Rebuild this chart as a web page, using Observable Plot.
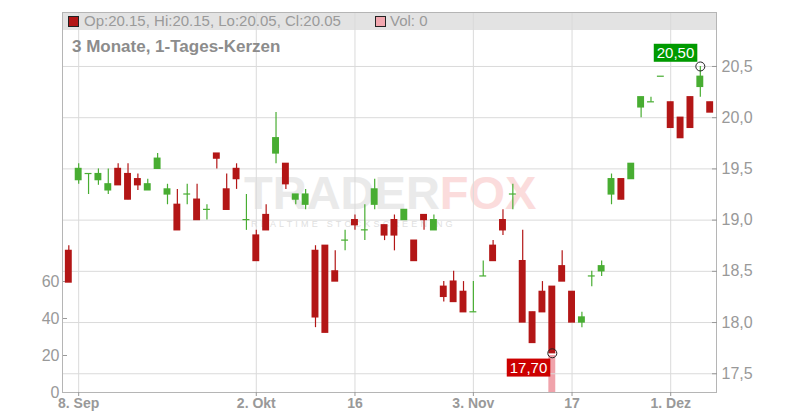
<!DOCTYPE html>
<html><head><meta charset="utf-8">
<script src="https://cdn.jsdelivr.net/npm/d3@7"></script>
<script src="https://cdn.jsdelivr.net/npm/@observablehq/plot@0.6"></script>
<style>
body{margin:0;background:#fff;font-family:"Liberation Sans",Arial,sans-serif;}
#wrap{position:relative;width:800px;height:420px;overflow:hidden;background:#fff}
.abs{position:absolute}
</style></head><body><div id="wrap"></div>
<script>
// ---- data ----
const dates = [
 "2025-09-05","2025-09-08","2025-09-09","2025-09-10","2025-09-11","2025-09-12",
 "2025-09-15","2025-09-16","2025-09-17","2025-09-18","2025-09-19",
 "2025-09-22","2025-09-23","2025-09-24","2025-09-25","2025-09-26",
 "2025-09-29","2025-09-30","2025-10-01","2025-10-02","2025-10-03",
 "2025-10-06","2025-10-07","2025-10-08","2025-10-09","2025-10-10",
 "2025-10-13","2025-10-14","2025-10-15","2025-10-16","2025-10-17",
 "2025-10-20","2025-10-21","2025-10-22","2025-10-23","2025-10-24",
 "2025-10-27","2025-10-28","2025-10-29","2025-10-30","2025-10-31",
 "2025-11-03","2025-11-04","2025-11-05","2025-11-06","2025-11-07",
 "2025-11-10","2025-11-11","2025-11-12","2025-11-13","2025-11-14",
 "2025-11-17","2025-11-18","2025-11-19","2025-11-20","2025-11-21",
 "2025-11-24","2025-11-25","2025-11-26","2025-11-27","2025-11-28",
 "2025-12-01","2025-12-02","2025-12-03","2025-12-04","2025-12-05"];
const open  = [18.70,19.39,19.45,19.39,19.29,19.50, 19.45,19.40,19.29,19.50,19.25, 19.15,19.25,19.20,19.10,19.65, 19.30,19.50,19.00,18.85,19.05,
               19.65,19.55,19.20,19.15,18.70, 18.75,18.50,18.80,19.00,18.90, 19.15,18.95,19.00,19.00,18.80, 19.05,18.90,18.35,18.40,18.30,
               18.10,18.45,18.75,19.00,19.25, 18.60,18.10,18.30,18.35,18.55, 18.30,18.00,18.45,18.50,19.25, 19.40,19.40,20.10,20.15,20.40,
               20.15,20.00,20.20,20.30,20.15];
const high  = [18.75,19.55,19.45,19.50,19.50,19.55, 19.55,19.45,19.40,19.65,19.35, 19.30,19.35,19.35,19.15,19.65, 19.45,19.55,19.25,18.90,19.15,
               20.05,19.55,19.25,19.30,18.75, 18.75,18.70,18.90,19.05,19.15, 19.40,18.95,19.05,19.10,18.80, 19.05,19.05,18.40,18.50,18.40,
               18.40,18.60,18.80,19.10,19.35, 18.90,18.10,18.40,18.35,18.70, 18.30,18.10,18.50,18.60,19.45, 19.40,19.55,20.20,20.20,20.40,
               20.15,20.00,20.20,20.50,20.15];
const low   = [18.39,19.35,19.25,19.34,19.25,19.34, 19.20,19.29,19.29,19.50,19.15, 18.90,19.15,19.00,19.00,19.50, 19.10,19.30,18.90,18.60,18.90,
               19.55,19.30,19.15,19.10,17.95, 17.90,18.40,18.70,18.90,18.80, 19.10,18.80,18.70,19.00,18.60, 18.90,18.90,18.20,18.20,18.10,
               18.10,18.45,18.60,18.85,19.10, 18.00,17.80,18.10,17.70,18.40, 18.00,17.95,18.35,18.45,19.15, 19.20,19.40,20.00,20.15,20.40,
               19.90,19.80,19.90,20.20,20.05];
const close = [18.39,19.50,19.45,19.45,19.35,19.34, 19.20,19.34,19.35,19.60,19.30, 18.90,19.25,19.00,19.10,19.60, 19.10,19.40,19.00,18.60,18.90,
               19.80,19.35,19.25,19.25,18.05, 17.90,18.40,18.80,18.95,18.90, 19.30,18.85,18.85,19.10,18.60, 19.00,19.00,18.25,18.20,18.10,
               18.10,18.45,18.60,18.90,19.25, 18.00,17.80,18.10,17.70,18.40, 18.00,18.05,18.45,18.55,19.40, 19.20,19.55,20.20,20.15,20.40,
               19.90,19.80,19.90,20.40,20.05];
const volume = [0,0,0,0,0,0, 0,0,0,0,0, 0,0,0,0,0, 0,0,0,0,0,
                0,0,0,0,0, 0,0,0,0,0, 0,0,0,0,0, 0,0,0,0,0,
                0,0,0,0,0, 0,0,0,20,0, 0,0,0,0,0, 0,0,0,0,0,
                0,0,0,0,0];
const tickDates  = ["2025-09-08","2025-10-02","2025-10-16","2025-11-03","2025-11-17","2025-12-01"];
const tickLabels = ["8. Sep","2. Okt","16","3. Nov","17","1. Dez"];
const priceTicks = [17.5,18,18.5,19,19.5,20,20.5];
const volumeTicks = [0,20,40,60];
const priceDomain = [17.317, 21.027];
const volumeDomain = [0, 205.4];
const lastQuote = {op:20.15, hi:20.15, lo:20.05, cl:20.05, vol:0};
const subtitle = "3 Monate, 1-Tages-Kerzen";
const hiMark = [{date:"2025-12-04", price:20.50, label:"20,50"}];
const loMark = [{date:"2025-11-13", price:17.70, label:"17,70"}];

// ---- build ----
const GREEN = "#48ad32", RED = "#b31616", PINK = "#f0a3ab";
const candles = dates.map((d,i)=>({date:d, open:open[i], high:high[i], low:low[i], close:close[i], volume:volume[i]}));
const up = candles.filter(c=>c.close>=c.open), down = candles.filter(c=>c.close<c.open);
const font = '"Liberation Sans", Arial, sans-serif';
const common = {width:800, height:420, marginLeft:62, marginRight:84, marginTop:12, marginBottom:28,
  style:{background:"transparent", fontFamily:font, color:"#999", overflow:"visible"}};
const xOpt = {type:"band", domain:dates, paddingInner:0.3, paddingOuter:0.29};

const wrap = document.getElementById("wrap");

// header band
const band = document.createElement("div");
band.className="abs";
Object.assign(band.style,{left:"62px",top:"12px",width:"654px",height:"18px",background:"#e3e3e3"});
wrap.appendChild(band);

// watermark
const wm = document.createElement("div");
wm.className="abs";
Object.assign(wm.style,{left:"244px",top:"175px",fontFamily:font,fontWeight:"900",fontSize:"47px",lineHeight:"36px",whiteSpace:"nowrap"});
wm.innerHTML = '<span style="color:#eaeaea">TRADER</span><span style="color:#fbdcdc">FOX</span>';
wrap.appendChild(wm);
const wm2 = document.createElement("div");
wm2.className="abs";
Object.assign(wm2.style,{left:"251px",top:"220px",fontFamily:font,fontSize:"9px",lineHeight:"9px",letterSpacing:"3.2px",color:"#e0e0e0",whiteSpace:"nowrap"});
wm2.textContent = "REALTIME STOCKSCREENING";
wrap.appendChild(wm2);

// volume layer
const vol = Plot.plot({...common,
  x:{...xOpt, axis:null},
  y:{domain:volumeDomain},
  marks:[
    Plot.axisY({anchor:"left", ticks:volumeTicks, tickSize:-5, tickPadding:8, fontSize:16, label:null}),
    Plot.barY(candles.filter(c=>c.volume>0), {x:"date", y:"volume", fill:PINK})
  ]});
vol.classList.add("abs"); vol.style.left="0px"; vol.style.top="0px";
wrap.appendChild(vol);

// price layer
const fmt = d => d.toFixed(1).replace(".", ",");
const price = Plot.plot({...common,
  x:xOpt,
  y:{domain:priceDomain},
  marks:[
    Plot.gridX({ticks:tickDates, stroke:"#dadada", strokeOpacity:1}),
    Plot.gridY({ticks:priceTicks, stroke:"#dadada", strokeOpacity:1}),
    Plot.frame({stroke:"#b5b5b5"}),
    Plot.axisX({ticks:tickDates, tickFormat:d=>tickLabels[tickDates.indexOf(d)], tickSize:4, tickPadding:2, fontSize:14, fontWeight:"bold", label:null}),
    Plot.axisY({anchor:"right", ticks:priceTicks, tickFormat:fmt, tickSize:-5, tickPadding:10, fontSize:16, label:null}),
    Plot.ruleX(up,   {x:"date", y1:"low", y2:"high", stroke:GREEN, strokeWidth:1.2}),
    Plot.ruleX(down, {x:"date", y1:"low", y2:"high", stroke:RED, strokeWidth:1.2}),
    Plot.barY(up,   {x:"date", y1:"open", y2:"close", fill:GREEN, insetTop:-0.6, insetBottom:-0.6}),
    Plot.barY(down, {x:"date", y1:"open", y2:"close", fill:RED, insetTop:-0.6, insetBottom:-0.6}),
    Plot.dot([...hiMark, ...loMark], {x:"date", y:"price", r:4.5, stroke:"#222", strokeWidth:1, fill:"none"}),
    Plot.text(hiMark, {x:"date", y:"price", text:"label", fill:"white", textAnchor:"end", dx:-6, dy:-13.5, fontSize:15}),
    Plot.text(loMark, {x:"date", y:"price", text:"label", fill:"white", textAnchor:"end", dx:-5, dy:14.5, fontSize:15})
  ]});
price.classList.add("abs"); price.style.left="0px"; price.style.top="0px";
wrap.appendChild(price);

function boxes(label, color){
  d3.select(price).selectAll("text").filter(function(){ return this.textContent === label; }).each(function(){
    const b = this.getBBox();
    const r = document.createElementNS("http://www.w3.org/2000/svg","rect");
    r.setAttribute("x", b.x-3); r.setAttribute("y", b.y);
    r.setAttribute("width", b.width+6); r.setAttribute("height", b.height+1);
    r.setAttribute("fill", color);
    const t = this.getAttribute("transform"); if (t) r.setAttribute("transform", t);
    this.parentNode.insertBefore(r, this);
  });
}
boxes(hiMark[0].label, "#009a00");
boxes(loMark[0].label, "#cc0000");

// header text
const sq = (left,color)=>{const s=document.createElement("div");s.className="abs";
  Object.assign(s.style,{left:left+"px",top:"16px",width:"9px",height:"9px",background:color,border:"1px solid #222"});wrap.appendChild(s);};
sq(68, "#b31616"); sq(375, "#f2a7af");
const t1 = document.createElement("div"); t1.className="abs";
Object.assign(t1.style,{left:"84px",top:"12px",fontSize:"15px",lineHeight:"18px",color:"#9a9a9a",whiteSpace:"nowrap"});
t1.textContent = `Op:${lastQuote.op.toFixed(2)}, Hi:${lastQuote.hi.toFixed(2)}, Lo:${lastQuote.lo.toFixed(2)}, Cl:${lastQuote.cl.toFixed(2)}`;
wrap.appendChild(t1);
const t2 = document.createElement("div"); t2.className="abs";
Object.assign(t2.style,{left:"390px",top:"12px",fontSize:"15px",lineHeight:"18px",color:"#9a9a9a",whiteSpace:"nowrap"});
t2.textContent = `Vol: ${lastQuote.vol}`;
wrap.appendChild(t2);
const t3 = document.createElement("div"); t3.className="abs";
Object.assign(t3.style,{left:"72px",top:"37px",fontSize:"17px",fontWeight:"bold",lineHeight:"20px",color:"#8c8c8c",whiteSpace:"nowrap"});
t3.textContent = subtitle;
wrap.appendChild(t3);
</script></body></html>
